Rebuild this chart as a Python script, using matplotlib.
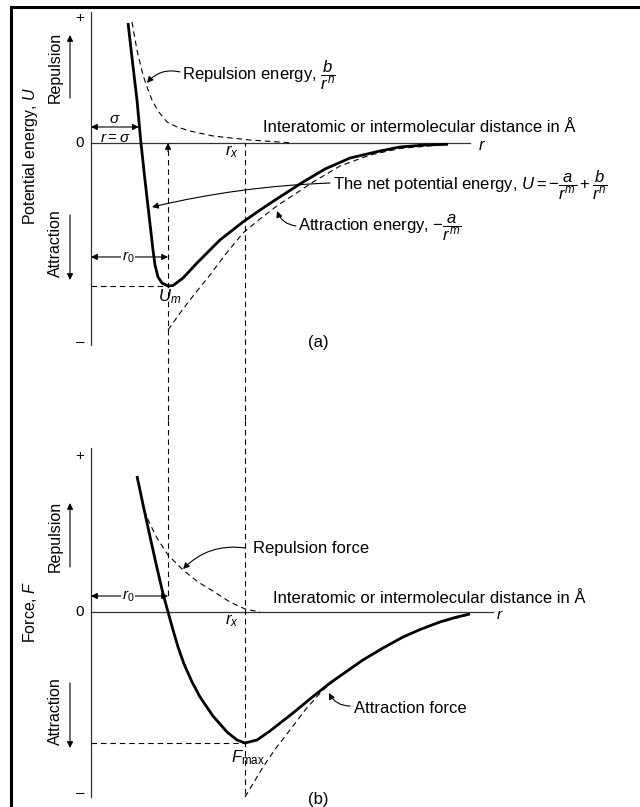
import matplotlib
matplotlib.use('Agg')
import matplotlib.pyplot as plt
from matplotlib.lines import Line2D

plt.rcParams['font.family'] = ['Liberation Sans', 'DejaVu Sans']
plt.rcParams['mathtext.fontset'] = 'custom'
plt.rcParams['mathtext.rm'] = 'Liberation Sans'
plt.rcParams['mathtext.it'] = 'Liberation Sans:italic'
plt.rcParams['mathtext.bf'] = 'Liberation Sans:bold'
plt.rcParams['mathtext.sf'] = 'Liberation Sans'

# ---- data (r in units of r0, U in units of |Um|, F in units of |Fmax|)
r0 = 1.0
r_x = 2.0
sigma = 0.62
U_m = -1.0
F_max = -1.0

# (a) potential energy
pot_net_r = [0.481, 0.536, 0.597, 0.649, 0.701, 0.753, 0.805, 0.831, 0.870, 0.922, 1.000,
             1.065, 1.195, 1.377, 1.675, 1.974, 2.195, 2.390, 2.753, 3.039, 3.364, 3.753,
             4.013, 4.338, 4.636]
pot_net_U = [0.839, 0.580, 0.301, 0.000, -0.259, -0.503, -0.748, -0.853, -0.937, -0.979, -1.000,
             -0.997, -0.944, -0.839, -0.678, -0.552, -0.469, -0.399, -0.273, -0.182, -0.105,
             -0.056, -0.028, -0.014, -0.009]
pot_rep_r = [0.532, 0.597, 0.675, 0.727, 0.792, 0.870, 0.987, 1.117, 1.286, 1.584, 2.065, 2.623]
pot_rep_U = [0.846, 0.650, 0.476, 0.392, 0.301, 0.224, 0.147, 0.112, 0.084, 0.049, 0.021, 0.000]
pot_att_r = [1.000, 1.156, 1.325, 1.545, 1.740, 1.974, 2.195, 2.429, 2.649, 2.883, 3.234,
             3.623, 4.013, 4.532]
pot_att_U = [-1.308, -1.189, -1.070, -0.923, -0.783, -0.629, -0.531, -0.434, -0.357, -0.273,
             -0.161, -0.084, -0.038, -0.014]

# (b) force
force_net_r = [0.597, 0.688, 0.779, 0.857, 0.935, 1.000, 1.065, 1.130, 1.208, 1.312, 1.416,
               1.584, 1.766, 1.896, 2.000, 2.156, 2.325, 2.623, 2.844, 3.104, 3.299, 3.532,
               3.792, 4.052, 4.273, 4.532, 4.727, 4.922]
force_net_F = [1.038, 0.786, 0.542, 0.336, 0.141, 0.000, -0.137, -0.267, -0.397, -0.534,
               -0.649, -0.794, -0.916, -0.977, -1.000, -0.977, -0.908, -0.771, -0.664, -0.542,
               -0.462, -0.366, -0.275, -0.191, -0.134, -0.076, -0.042, -0.015]
force_rep_r = [0.688, 0.766, 0.857, 1.000, 1.195, 1.390, 1.584, 1.805, 2.000, 2.195]
force_rep_F = [0.779, 0.672, 0.565, 0.435, 0.321, 0.229, 0.160, 0.076, 0.023, 0.000]
force_att_r = [2.000, 2.117, 2.234, 2.403, 2.584, 2.792, 3.013, 3.234, 3.455, 3.714, 3.974,
               4.247, 4.532, 4.857]
force_att_F = [-1.412, -1.298, -1.183, -1.038, -0.901, -0.740, -0.595, -0.489, -0.395, -0.305,
               -0.214, -0.137, -0.080, -0.030]

W, H = 640, 807
fig = plt.figure(figsize=(W / 100, H / 100), dpi=100)
ax1 = fig.add_axes([0, 1 - 420 / H, 1, 420 / H])
ax2 = fig.add_axes([0, 0, 1, 387 / H])
for ax in (ax1, ax2):
    ax.set_xlim(-91 / 77, 549 / 77)
    ax.axis('off')
ax1.set_ylim(-277 / 143, 1.0)
ax2.set_ylim(-195 / 131, 192 / 131)

dash = (0, (5, 3.5))
thin = dict(color='black', lw=0.8, linestyle=dash)
axcol = '#333333'
tfs = 12


def arrow(ax, tip, tail, rad=0.0, style='-|>', coords='data'):
    ax.annotate('', xy=tip, xytext=tail, xycoords=coords, textcoords=coords,
                arrowprops=dict(arrowstyle=style, color='black', lw=0.8, mutation_scale=9,
                                shrinkA=0, shrinkB=0,
                                connectionstyle='arc3,rad=%s' % rad))


# ---------------- (a) potential energy
ax = ax1
ax.plot([0, 0], [0.915, -1.413], color=axcol, lw=0.9)
ax.plot([0, 4.922], [0, 0], color=axcol, lw=0.9)
ax.text(-0.143, 0.874, '+', ha='center', va='center', fontsize=11)
ax.text(-0.143, 0.0, '0', ha='center', va='center', fontsize=11)
ax.text(-0.143, -1.392, '\u2013', ha='center', va='center', fontsize=11)
ax.text(5.078, -0.014, '$r$', ha='center', va='center', fontsize=tfs)
ax.text(2.234, 0.105, 'Interatomic or intermolecular distance in \u00c5', ha='left',
        va='center', fontsize=tfs)

ax.plot(pot_rep_r, pot_rep_U, **thin)
ax.plot(pot_att_r, pot_att_U, **thin)
ax.plot([r0, r0], [-1.937, 0], **thin)
ax.plot([r_x, r_x], [-1.937, 0], **thin)
ax.plot([0, r0], [U_m, U_m], **thin)
ax.plot(pot_net_r, pot_net_U, color='black', lw=2.0, solid_joinstyle='round',
        solid_capstyle='butt')
arrow(ax, (r0, 0), (r0, -0.06))

arrow(ax, (sigma, 0.112), (0, 0.112), style='<|-|>')
ax.text(0.312, 0.165, r'$\sigma$', ha='center', va='center', fontsize=11)
ax.text(0.312, 0.035, r'$r = \sigma$', ha='center', va='center', fontsize=11)
arrow(ax, (r0, -0.797), (0, -0.797), style='<|-|>')
ax.text(0.48, -0.797, '$r_0$', ha='center', va='center', fontsize=11,
        bbox=dict(facecolor='white', edgecolor='none', pad=0.5))
ax.text(1.026, -1.077, '$U_m$', ha='center', va='center', fontsize=tfs)
ax.text(1.83, -0.063, '$r_x$', ha='center', va='center', fontsize=tfs)

ax.text(1.182, 0.476, r'Repulsion energy, $\dfrac{b}{r^n}$', ha='left', va='center',
        fontsize=tfs)
arrow(ax, (0.727, 0.420), (1.156, 0.497), rad=0.3)
ax.text(3.143, -0.294, r'The net potential energy, $U = -\dfrac{a}{r^m} + \dfrac{b}{r^n}$',
        ha='left', va='center', fontsize=tfs)
arrow(ax, (0.792, -0.448), (3.104, -0.280), rad=0.05)
ax.text(2.688, -0.591, r'Attraction energy, $-\dfrac{a}{r^m}$', ha='left', va='center',
        fontsize=tfs)
arrow(ax, (2.416, -0.476), (2.662, -0.580), rad=-0.3)
ax.text(2.948, -1.392, '(a)', ha='center', va='center', fontsize=tfs)

# ---------------- (b) force
ax = ax2
ax.plot([0, 0], [1.252, -1.412], color=axcol, lw=0.9)
ax.plot([0, 5.221], [0, 0], color=axcol, lw=0.9)
ax.text(-0.143, 1.191, '+', ha='center', va='center', fontsize=11)
ax.text(-0.143, 0.0, '0', ha='center', va='center', fontsize=11)
ax.text(-0.143, -1.382, '\u2013', ha='center', va='center', fontsize=11)
ax.text(5.312, -0.025, '$r$', ha='center', va='center', fontsize=11)
ax.text(2.364, 0.103, 'Interatomic or intermolecular distance in \u00c5', ha='left',
        va='center', fontsize=tfs)

ax.plot(force_rep_r, force_rep_F, **thin)
ax.plot(force_att_r, force_att_F, **thin)
ax.plot([r0, r0], [1.466, 0.122], **thin)
ax.plot([r_x, r_x], [1.466, -1.412], **thin)
ax.plot([0, r_x], [F_max, F_max], **thin)
ax.plot(force_net_r, force_net_F, color='black', lw=2.0, solid_joinstyle='round',
        solid_capstyle='butt')

arrow(ax, (r0, 0.122), (0, 0.122), style='<|-|>')
ax.text(0.481, 0.122, '$r_0$', ha='center', va='center', fontsize=11,
        bbox=dict(facecolor='white', edgecolor='none', pad=0.5))
ax.text(1.831, -0.069, '$r_x$', ha='center', va='center', fontsize=tfs)
ax.text(2.039, -1.115, r'$F_{\rm max}$', ha='center', va='center', fontsize=tfs)

ax.text(2.104, 0.481, 'Repulsion force', ha='left', va='center', fontsize=tfs)
arrow(ax, (1.195, 0.328), (2.0, 0.489), rad=0.25)
ax.text(3.416, -0.733, 'Attraction force', ha='left', va='center', fontsize=tfs)
arrow(ax, (3.091, -0.618), (3.364, -0.718), rad=-0.3)
ax.text(2.948, -1.435, '(b)', ha='center', va='center', fontsize=tfs)

# ---------------- side labels
side = dict(rotation=90, ha='center', va='center', fontsize=11.5,
            family=['Liberation Sans Narrow', 'Liberation Sans'])
fig.text(30 / W, 1 - 156 / H, 'Potential energy, $U$', **side)
fig.text(55 / W, 1 - 67 / H, 'Repulsion', **side)
fig.text(55 / W, 1 - 243 / H, 'Attraction', **side)
fig.text(30 / W, 1 - 612 / H, 'Force, $F$', **side)
fig.text(55 / W, 1 - 536 / H, 'Repulsion', **side)
fig.text(55 / W, 1 - 711 / H, 'Attraction', **side)
arrow(ax1, (70, H - 35), (70, H - 98), coords='figure pixels')
arrow(ax1, (70, H - 280), (70, H - 215), coords='figure pixels')
arrow(ax2, (70, H - 503), (70, H - 567), coords='figure pixels')
arrow(ax2, (70, H - 748), (70, H - 683), coords='figure pixels')

# page frame
fig.add_artist(Line2D([11 / W, 11 / W], [0, 1 - 7 / H], color='black', lw=2.2,
                      transform=fig.transFigure))
fig.add_artist(Line2D([11 / W, 1], [1 - 7 / H, 1 - 7 / H], color='black', lw=2.2,
                      transform=fig.transFigure))

fig.savefig('out.png', dpi=100)
